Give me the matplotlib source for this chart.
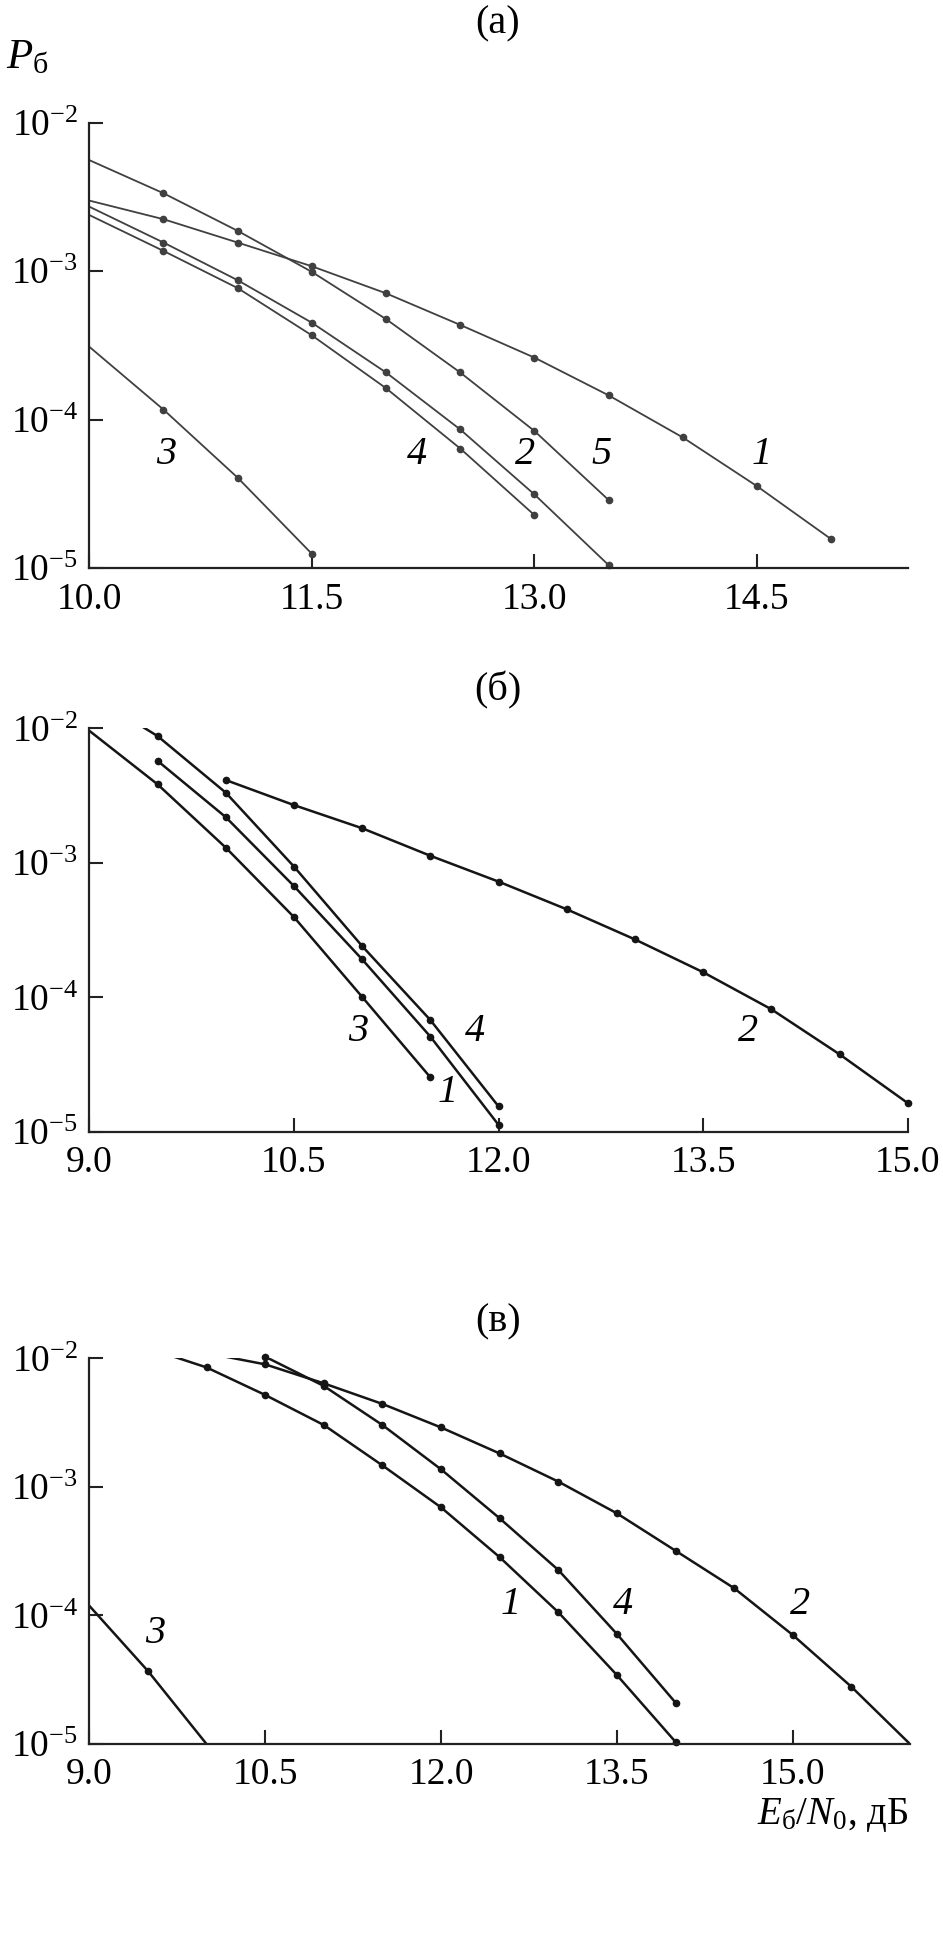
import matplotlib
matplotlib.use("Agg")
import matplotlib.pyplot as plt
from matplotlib.ticker import NullLocator

plt.rcParams.update({
    "font.family": ["Liberation Serif", "DejaVu Serif"],
    "mathtext.fontset": "custom",
    "mathtext.rm": "Liberation Serif",
    "mathtext.it": "Liberation Serif:italic",
    "mathtext.default": "regular",
})

# --------------------------------------------------------------------------
# Data (Eb/N0 in dB, bit error probability)
# --------------------------------------------------------------------------

# panel (а)
a_x1 = [10.0, 10.5, 11.0, 11.5, 12.0, 12.5, 13.0, 13.5, 14.0, 14.5, 15.0]
a_p1 = [2.99e-3, 2.24e-3, 1.56e-3, 1.08e-3, 7.1e-4, 4.35e-4, 2.62e-4,
        1.46e-4, 7.6e-5, 3.57e-5, 1.57e-5]
a_x2 = [10.0, 10.5, 11.0, 11.5, 12.0, 12.5, 13.0, 13.5]
a_p2 = [2.72e-3, 1.56e-3, 8.7e-4, 4.5e-4, 2.08e-4, 8.6e-5, 3.14e-5, 1.05e-5]
a_x3 = [10.0, 10.5, 11.0, 11.5]
a_p3 = [3.1e-4, 1.17e-4, 4.07e-5, 1.25e-5]
a_x4 = [10.0, 10.5, 11.0, 11.5, 12.0, 12.5, 13.0]
a_p4 = [2.39e-3, 1.37e-3, 7.7e-4, 3.7e-4, 1.63e-4, 6.4e-5, 2.28e-5]
a_x5 = [10.0, 10.5, 11.0, 11.5, 12.0, 12.5, 13.0, 13.5]
a_p5 = [5.6e-3, 3.35e-3, 1.87e-3, 0.99e-3, 4.76e-4, 2.08e-4, 8.4e-5, 2.88e-5]

# panel (б)
b_x1 = [9.5, 10.0, 10.5, 11.0, 11.5, 12.0]
b_p1 = [5.74e-3, 2.19e-3, 6.73e-4, 1.92e-4, 5.12e-5, 1.13e-5]
b_x2 = [10.0, 10.5, 11.0, 11.5, 12.0, 12.5, 13.0, 13.5, 14.0, 14.5, 15.0]
b_p2 = [4.13e-3, 2.69e-3, 1.81e-3, 1.13e-3, 7.26e-4, 4.52e-4, 2.70e-4,
        1.54e-4, 8.17e-5, 3.78e-5, 1.64e-5]
b_x3 = [9.0, 9.5, 10.0, 10.5, 11.0, 11.5]
b_p3 = [9.6e-3, 3.84e-3, 1.30e-3, 3.96e-4, 1.01e-4, 2.55e-5]
b_x4 = [9.0, 9.5, 10.0, 10.5, 11.0, 11.5, 12.0]
b_p4 = [1.8e-2, 8.77e-3, 3.33e-3, 9.4e-4, 2.41e-4, 6.8e-5, 1.55e-5]

# panel (в)
c_x1 = [9.5, 10.0, 10.5, 11.0, 11.5, 12.0, 12.5, 13.0, 13.5, 14.0]
c_p1 = [1.2e-2, 8.5e-3, 5.19e-3, 3.03e-3, 1.47e-3, 6.93e-4, 2.84e-4,
        1.06e-4, 3.44e-5, 1.04e-5]
c_x2 = [10.0, 10.5, 11.0, 11.5, 12.0, 12.5, 13.0, 13.5, 14.0, 14.5, 15.0,
        15.5, 16.0]
c_p2 = [1.1e-2, 8.98e-3, 6.39e-3, 4.42e-3, 2.9e-3, 1.82e-3, 1.10e-3,
        6.23e-4, 3.19e-4, 1.63e-4, 7.05e-5, 2.79e-5, 1.0e-5]
c_x3 = [9.0, 9.5, 10.0]
c_p3 = [1.19e-4, 3.7e-5, 1.0e-5]
c_x4 = [10.5, 11.0, 11.5, 12.0, 12.5, 13.0, 13.5, 14.0]
c_p4 = [1.03e-2, 6.1e-3, 3.03e-3, 1.37e-3, 5.7e-4, 2.26e-4, 7.18e-5, 2.1e-5]

# curve number labels: (text, x, P)
a_labels = [("3", 10.52, 5.8e-5), ("4", 12.21, 5.8e-5), ("2", 12.94, 5.8e-5),
            ("5", 13.45, 5.8e-5), ("1", 14.53, 5.8e-5)]
b_labels = [("3", 10.97, 5.6e-5), ("4", 11.83, 5.6e-5), ("1", 11.63, 1.95e-5),
            ("2", 13.83, 5.6e-5)]
c_labels = [("3", 9.56, 7.3e-5), ("1", 12.59, 1.21e-4), ("4", 13.55, 1.21e-4),
            ("2", 15.06, 1.21e-4)]

a_xticks = [10.0, 11.5, 13.0, 14.5]
bc_xticks = [9.0, 10.5, 12.0, 13.5, 15.0]
yticks = [1e-5, 1e-4, 1e-3, 1e-2]
ytick_labels = [r"$10^{-5}$", r"$10^{-4}$", r"$10^{-3}$", r"$10^{-2}$"]

# curves per panel: (x, P, slice of points that carry a dot)
panels = [
    dict(title="(а)", ty=1 - 24 / 1948, rect=[0.0947, 0.7083, 0.8685, 0.2287],
         xlim=(10.0, 15.52), xticks=a_xticks, color="#404040", lw=1.3,
         curves=[(a_x1, a_p1, slice(1, None)), (a_x2, a_p2, slice(1, None)),
                 (a_x3, a_p3, slice(1, None)), (a_x4, a_p4, slice(1, None)),
                 (a_x5, a_p5, slice(1, None))],
         labels=a_labels),
    dict(title="(б)", ty=1 - 690 / 1948, rect=[0.0947, 0.4189, 0.8679, 0.2072],
         xlim=(9.0, 15.0), xticks=bc_xticks, color="#151515", lw=1.8,
         curves=[(b_x1, b_p1, slice(0, None)), (b_x2, b_p2, slice(0, None)),
                 (b_x3, b_p3, slice(1, None)), (b_x4, b_p4, slice(1, None))],
         labels=b_labels),
    dict(title="(в)", ty=1 - 1322 / 1948, rect=[0.0947, 0.1047, 0.8703, 0.1980],
         xlim=(9.0, 16.0), xticks=bc_xticks, color="#151515", lw=1.8,
         curves=[(c_x1, c_p1, slice(1, None)), (c_x2, c_p2, slice(1, -1)),
                 (c_x3, c_p3, slice(1, 2)), (c_x4, c_p4, slice(0, None))],
         labels=c_labels),
]

fig = plt.figure(figsize=(9.43, 19.48), dpi=100)

for pn in panels:
    ax = fig.add_axes(pn["rect"])
    ax.set_yscale("log")
    for x, p, marks in pn["curves"]:
        ax.plot(x, p, color=pn["color"], lw=pn["lw"], solid_capstyle="butt")
        ax.plot(x[marks], p[marks], linestyle="none", marker="o",
                markersize=4.5, color=pn["color"], clip_on=False)
    for txt, lx, lp in pn["labels"]:
        ax.text(lx, lp, txt, fontsize=29, fontstyle="italic",
                ha="center", va="center")
    ax.set_xlim(*pn["xlim"])
    ax.set_ylim(1e-5, 1e-2)
    ax.set_xticks(pn["xticks"])
    ax.set_xticklabels([f"{t:.1f}" for t in pn["xticks"]])
    ax.set_yticks(yticks)
    ax.set_yticklabels(ytick_labels)
    ax.yaxis.set_minor_locator(NullLocator())
    ax.xaxis.set_minor_locator(NullLocator())
    for side in ("top", "right"):
        ax.spines[side].set_visible(False)
    for side in ("left", "bottom"):
        ax.spines[side].set_linewidth(1.6)
        ax.spines[side].set_color("#222222")
    ax.tick_params(direction="in", length=10, width=1.5, color="#222222",
                   labelsize=27, pad=8)
    ax.tick_params(axis="x", pad=10)
    fig.text(0.528, pn["ty"], pn["title"], fontsize=29, ha="center", va="center")

fig.text(6 / 943, 1 - 58 / 1948, r"$\mathit{P}_{б}$", fontsize=31,
         ha="left", va="center")
fig.text(908 / 943, 1 - 1815 / 1948, r"$\mathit{E}_{б}/\mathit{N}_{0}$, дБ",
         fontsize=28, ha="right", va="center")

fig.savefig("out.png", dpi=100)
